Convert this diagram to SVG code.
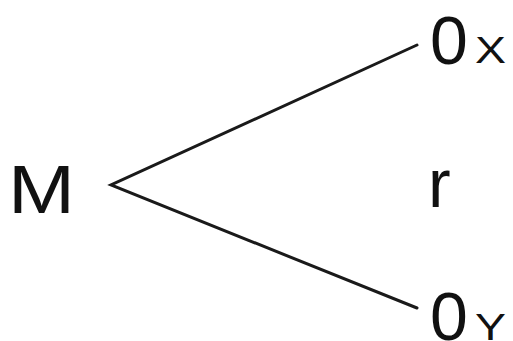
<svg xmlns="http://www.w3.org/2000/svg" width="513" height="341" viewBox="0 0 513 341">
<style>
.t{font-family:"Liberation Sans",Arial,sans-serif;fill:#111}
.big{font-size:68px}
.sub{font-size:37px}
.c{stroke:#1a1a1a;stroke-width:3;fill:none;stroke-linecap:round;stroke-linejoin:miter}
</style>
<rect width="513" height="341" fill="#fff"/>
<g id="connectors">
<path class="c" d="M417,45 L111,185 L417,308"/>
</g>
<g id="node-M"><text class="t big" x="8" y="213" textLength="67" lengthAdjust="spacingAndGlyphs">M</text></g>
<g id="node-Ox"><text class="t big" x="430" y="64">0</text><text class="t sub" x="475" y="63" textLength="31" lengthAdjust="spacingAndGlyphs">X</text></g>
<g id="node-r"><text class="t big" x="428" y="207">r</text></g>
<g id="node-Oy"><text class="t big" x="430" y="340">0</text><text class="t sub" x="475" y="340" textLength="31" lengthAdjust="spacingAndGlyphs">Y</text></g>
</svg>
